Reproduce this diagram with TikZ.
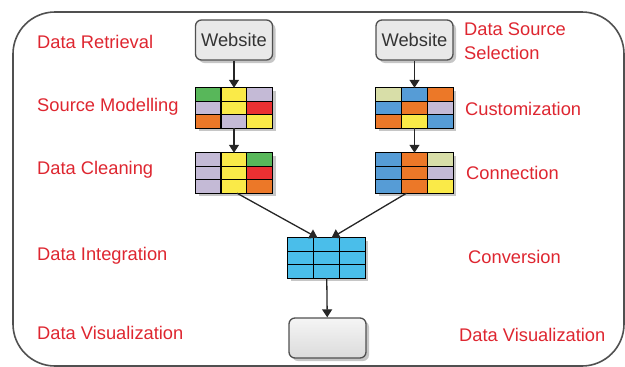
\documentclass[tikz,border=0pt]{standalone}
\usepackage{fontspec}
\setmainfont{Liberation Sans}
\usepackage{tikz}
\usetikzlibrary{calc,arrows.meta,shadows}
\definecolor{labelred}{RGB}{222,38,48}
\definecolor{cgreen}{RGB}{88,183,90}
\definecolor{cyellow}{RGB}{250,234,72}
\definecolor{clav}{RGB}{196,186,214}
\definecolor{cred}{RGB}{234,48,50}
\definecolor{corange}{RGB}{236,120,40}
\definecolor{colive}{RGB}{216,222,168}
\definecolor{cblue}{RGB}{86,156,214}
\definecolor{ccyan}{RGB}{74,190,234}
\definecolor{framegray}{RGB}{80,80,80}

\tikzset{
  steplabel/.style={anchor=west, text=labelred, font=\fontsize{18.3}{24}\selectfont, inner sep=0pt, align=left},
  sitebox/.style={draw=framegray, line width=1.3pt, rounded corners=6pt, fill=gray!17,
    minimum width=77pt, minimum height=40pt, inner sep=0pt, text=black!80,
    font=\fontsize{18.3}{20}\selectfont, drop shadow={shadow xshift=3pt, shadow yshift=-3pt, opacity=.45}},
  tablebox/.style={minimum width=77pt, minimum height=40pt, inner sep=0pt,
    drop shadow={shadow xshift=3pt, shadow yshift=-3pt, opacity=.45}},
  flow/.style={line width=1.3pt, black!85, -{Triangle[length=8pt,width=10pt]}}
}

% name, position, nine cell colours (row by row)
\newcommand{\celltable}[3]{%
  \node[tablebox] (#1) at (#2) {};
  \foreach \c [count=\i from 0] in {#3} {
    \pgfmathtruncatemacro\row{\i/3}
    \pgfmathtruncatemacro\col{mod(\i,3)}
    \fill[\c] ($(#1.north west)+(\col*25.67,\row*13.33)$) rectangle ++(25.67,13.33);
  }
  \foreach \k in {1,2} {
    \draw[line width=1.1pt] ($(#1.north west)+(\k*25.67,0)$) -- ++(0,40);
    \draw[line width=1.1pt] ($(#1.north west)+(0,\k*13.33)$) -- ++(77,0);
  }
  \draw[line width=1.3pt] (#1.north west) rectangle (#1.south east);
}

\begin{document}
\begin{tikzpicture}[x=1pt,y=-1pt]
    \useasboundingbox (0,0) rectangle (625,367);
    \draw[framegray, line width=1.6pt, rounded corners=42pt] (13,12) rectangle (624,366);

    % left column
    \node[sitebox] (web1) at (234,40) {Website};
    \celltable{tab1}{234,108}{cgreen,cyellow,clav,clav,cyellow,cred,corange,clav,cyellow}
    \celltable{tab3}{234,173}{clav,cyellow,cgreen,clav,cyellow,cred,clav,cyellow,corange}

    % right column
    \node[sitebox] (web2) at (414.5,40) {Website};
    \celltable{tab2}{414.5,108}{colive,cblue,corange,cblue,corange,clav,corange,cyellow,cblue}
    \celltable{tab4}{414.5,173}{cblue,corange,colive,cblue,corange,clav,cblue,corange,cyellow}

    % merged
    \celltable{blue}{326.5,258}{ccyan,ccyan,ccyan,ccyan,ccyan,ccyan,ccyan,ccyan,ccyan}
    \node[tablebox, draw=framegray, line width=1.3pt, rounded corners=6pt,
          top color=gray!8, bottom color=gray!28] (vis) at (327.5,338) {};

    \draw[flow] (web1) -- (tab1);
    \draw[flow] (tab1) -- (tab3);
    \draw[flow] (web2) -- (tab2);
    \draw[flow] (tab2) -- (tab4);
    \draw[flow] ([xshift=3pt]tab3.south) -- ([xshift=-9pt]blue.north);
    \draw[flow] ([xshift=-8pt]tab4.south) -- ([xshift=5pt]blue.north);
    \draw[flow] (blue) -- (vis);

    % stage labels
    \node[steplabel] (lretr) at (37,42) {Data Retrieval};
    \node[steplabel] (lmodel) at (37,107) {Source Modelling};
    \node[steplabel] (lclean) at (37,170) {Data Cleaning};
    \node[steplabel] (linteg) at (37,256) {Data Integration};
    \node[steplabel] (lvisl) at (37,333) {Data Visualization};
    \node[steplabel] (rsel) at (464,41) {Data Source\\Selection};
    \node[steplabel] (rcust) at (465,109) {Customization};
    \node[steplabel] (rconn) at (466,173) {Connection};
    \node[steplabel] (rconv) at (468,257) {Conversion};
    \node[steplabel] (rvis) at (459,335) {Data Visualization};
\end{tikzpicture}
\end{document}
